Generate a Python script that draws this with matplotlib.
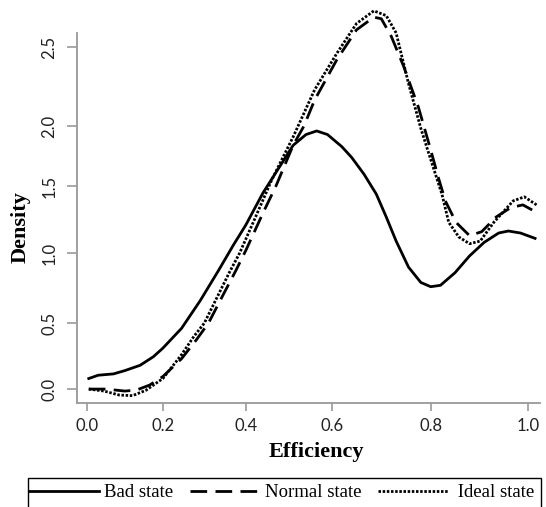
import numpy as np
import matplotlib.pyplot as plt
from matplotlib.lines import Line2D
from matplotlib.patches import Rectangle

# density curves
bad_x = [0.005, 0.03, 0.07, 0.10, 0.14, 0.175, 0.20, 0.245, 0.29, 0.335, 0.37, 0.40,
         0.44, 0.48, 0.51, 0.54, 0.565, 0.59, 0.62, 0.64, 0.665, 0.69, 0.71, 0.73,
         0.755, 0.78, 0.80, 0.82, 0.85, 0.88, 0.91, 0.94, 0.96, 0.985, 1.015]
bad_y = [0.08, 0.105, 0.115, 0.14, 0.18, 0.245, 0.31, 0.46, 0.66, 0.88, 1.06, 1.21,
         1.45, 1.67, 1.84, 1.93, 1.96, 1.93, 1.83, 1.74, 1.60, 1.44, 1.27, 1.09,
         0.90, 0.79, 0.76, 0.77, 0.86, 0.98, 1.08, 1.15, 1.165, 1.15, 1.11]

normal_x = [0.005, 0.05, 0.10, 0.13, 0.165, 0.20, 0.245, 0.28, 0.31, 0.345, 0.375, 0.40,
            0.44, 0.47, 0.51, 0.535, 0.56, 0.61, 0.65, 0.685, 0.70, 0.72, 0.745, 0.775,
            0.80, 0.815, 0.83, 0.852, 0.88, 0.905, 0.935, 0.965, 0.99, 1.015]
normal_y = [0.0, 0.0, -0.015, -0.008, 0.03, 0.095, 0.23, 0.37, 0.50, 0.70, 0.87, 1.02,
            1.30, 1.50, 1.84, 2.0, 2.165, 2.42, 2.61, 2.69, 2.68, 2.57, 2.38, 2.12,
            1.80, 1.58, 1.39, 1.23, 1.13, 1.16, 1.27, 1.34, 1.36, 1.31]

ideal_x = [0.005, 0.045, 0.085, 0.12, 0.155, 0.20, 0.245, 0.275, 0.30, 0.33, 0.36, 0.385,
           0.42, 0.46, 0.51, 0.56, 0.61, 0.65, 0.685, 0.71, 0.73, 0.755, 0.78, 0.80,
           0.823, 0.837, 0.858, 0.88, 0.902, 0.93, 0.97, 0.993, 1.018]
ideal_y = [0.0, -0.015, -0.045, -0.05, -0.01, 0.08, 0.26, 0.40, 0.50, 0.68, 0.86, 1.0,
           1.25, 1.55, 1.91, 2.23, 2.46, 2.65, 2.73, 2.70, 2.59, 2.27, 1.98, 1.72,
           1.44, 1.23, 1.12, 1.07, 1.09, 1.23, 1.39, 1.42, 1.36]

labels = ['Bad state', 'Normal state', ' Ideal state']
xticks = [0.0, 0.2, 0.4, 0.6, 0.8, 1.0]
yticks = [0.0, 0.5, 1.0, 1.5, 2.0, 2.5]

# the source image is unevenly stretched, so the axes use a warped scale
x_ref = [-0.1, 0.0, 0.2, 0.4, 0.6, 0.8, 1.0, 1.1]
x_pix = [49, 87, 163, 246, 332, 431, 528, 577]
y_ref = [-0.5, 0.0, 0.5, 1.0, 1.5, 2.0, 2.5, 3.0]
y_pix = [52, 118, 184, 254, 321, 381, 460, 539]

def x_fwd(v):
    return np.interp(v, x_ref, x_pix)

def x_inv(p):
    return np.interp(p, x_pix, x_ref)

def y_fwd(v):
    return np.interp(v, y_ref, y_pix)

def y_inv(p):
    return np.interp(p, y_pix, y_ref)

styles = ['-', (0, (6, 3)), (0, (0.9, 0.6))]

fig = plt.figure(figsize=(5.46, 5.07), dpi=100)
ax = fig.add_axes([0.141, 0.205, 0.848, 0.730])
ax.set_xscale('function', functions=(x_fwd, x_inv))
ax.set_yscale('function', functions=(y_fwd, y_inv))

for (xs, ys), ls in zip([(bad_x, bad_y), (normal_x, normal_y), (ideal_x, ideal_y)], styles):
    ax.plot(xs, ys, color='black', lw=2, ls=ls, clip_on=False)

ax.set_xlim(-0.026, 1.025)
ax.set_ylim(-0.106, 2.59)
ax.set_xticks(xticks)
ax.set_yticks(yticks)
ax.set_xticklabels(['%.1f' % t for t in xticks], fontfamily='Lato', fontsize=12, color='#222222')
ax.set_yticklabels(['%.1f' % t for t in yticks], fontfamily='Lato', fontsize=12, color='#222222',
                   rotation=90, va='center')
ax.minorticks_off()

for side in ['top', 'right']:
    ax.spines[side].set_visible(False)
for side in ['left', 'bottom']:
    ax.spines[side].set_color('#999999')
    ax.spines[side].set_linewidth(1.3)
ax.tick_params(axis='x', length=6, width=1.2, color='#999999', pad=5)
ax.tick_params(axis='y', length=7, width=1.2, color='#999999', pad=7)

ax.set_xlabel('Efficiency', fontfamily='Liberation Serif', fontweight='bold', fontsize=16)
ax.set_ylabel('Density', fontfamily='Liberation Serif', fontweight='bold', fontsize=16)
ax.xaxis.set_label_coords(0.516, -0.105)
ax.yaxis.set_label_coords(-0.10, 0.476)

# legend box runs off the bottom edge, as in the original
fig.add_artist(Rectangle((28 / 546, -0.02), (541 - 28) / 546, 0.02 + 1 - 478 / 507,
                         transform=fig.transFigure, fill=False, edgecolor='black', lw=1.0))
handles = [Line2D([], [], color='black', lw=2, ls=ls) for ls in styles]
fig.legend(handles, labels, loc='upper left', ncol=3, frameon=False,
           bbox_to_anchor=(29 / 546, 1 - 484 / 507),
           prop={'family': 'Liberation Serif', 'size': 13.5},
           borderpad=0, borderaxespad=0, handlelength=3.73,
           handletextpad=0.27, columnspacing=0.88)

plt.savefig('out.png', dpi=100)
